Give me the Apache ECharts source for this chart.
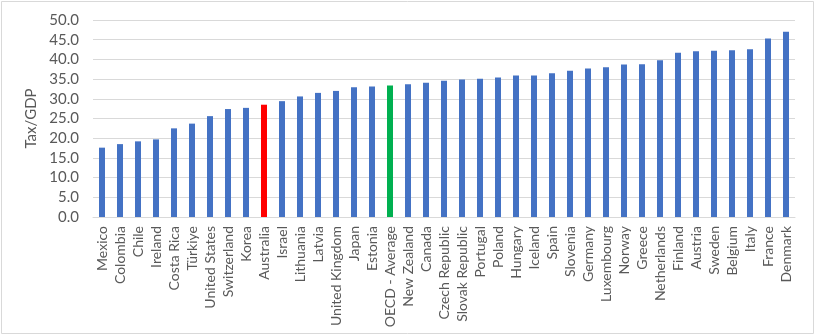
<!DOCTYPE html>
<html>
<head>
<meta charset="utf-8">
<script src="https://cdn.jsdelivr.net/npm/echarts@6/dist/echarts.min.js"></script>
<style>
html,body{margin:0;padding:0;background:#fff;}
#c{width:816px;height:336px;}
</style>
</head>
<body>
<div id="c"></div>
<script>
const categories = ["Mexico","Colombia","Chile","Ireland","Costa Rica","Türkiye","United States","Switzerland","Korea","Australia","Israel","Lithuania","Latvia","United Kingdom","Japan","Estonia","OECD - Average","New Zealand","Canada","Czech Republic","Slovak Republic","Portugal","Poland","Hungary","Iceland","Spain","Slovenia","Germany","Luxembourg","Norway","Greece","Netherlands","Finland","Austria","Sweden","Belgium","Italy","France","Denmark"];
const taxToGdp = [17.6,18.5,19.2,19.7,22.5,23.7,25.6,27.4,27.7,28.5,29.4,30.6,31.5,32.0,32.9,33.1,33.4,33.7,34.1,34.6,34.9,35.1,35.4,35.9,35.9,36.5,37.1,37.7,38.0,38.7,38.8,39.8,41.7,42.1,42.2,42.3,42.6,45.3,47.0];
const yTicks = {min:0, max:50, interval:5};
const highlight = {"Australia":"#FF0000","OECD - Average":"#00B050"};
const baseColor = "#4472C4";

const chart = echarts.init(document.getElementById('c'), null, {renderer:'canvas'});
chart.setOption({
  animation:false,
  backgroundColor:'#fff',
  graphic:[{type:'rect',shape:{x:1.5,y:1.5,width:812,height:332},style:{fill:'none',stroke:'#d9d9d9',lineWidth:1},silent:true}],
  grid:{left:93,right:21,top:20,bottom:119,containLabel:false},
  xAxis:{
    type:'category',data:categories,
    axisLine:{lineStyle:{color:'#d9d9d9',width:1}},
    axisTick:{show:false},
    axisLabel:{rotate:90,interval:0,margin:9,fontFamily:'Lato',fontSize:14,color:'#595959'}
  },
  yAxis:{
    type:'value',min:yTicks.min,max:yTicks.max,interval:yTicks.interval,
    name:'Tax/GDP',nameLocation:'middle',nameRotate:90,nameGap:50,
    nameTextStyle:{fontFamily:'Lato',fontSize:15,color:'#595959'},
    axisLine:{show:false},axisTick:{show:false},
    splitLine:{lineStyle:{color:'#d9d9d9',width:1}},
    axisLabel:{formatter:v=>v.toFixed(1),margin:14,fontFamily:'Lato',fontSize:15,color:'#595959'}
  },
  series:[{
    type:'bar',barWidth:6,
    data:taxToGdp.map((v,i)=>({value:v,itemStyle:{color:highlight[categories[i]]||baseColor}})),
  }]
});
</script>
</body>
</html>
